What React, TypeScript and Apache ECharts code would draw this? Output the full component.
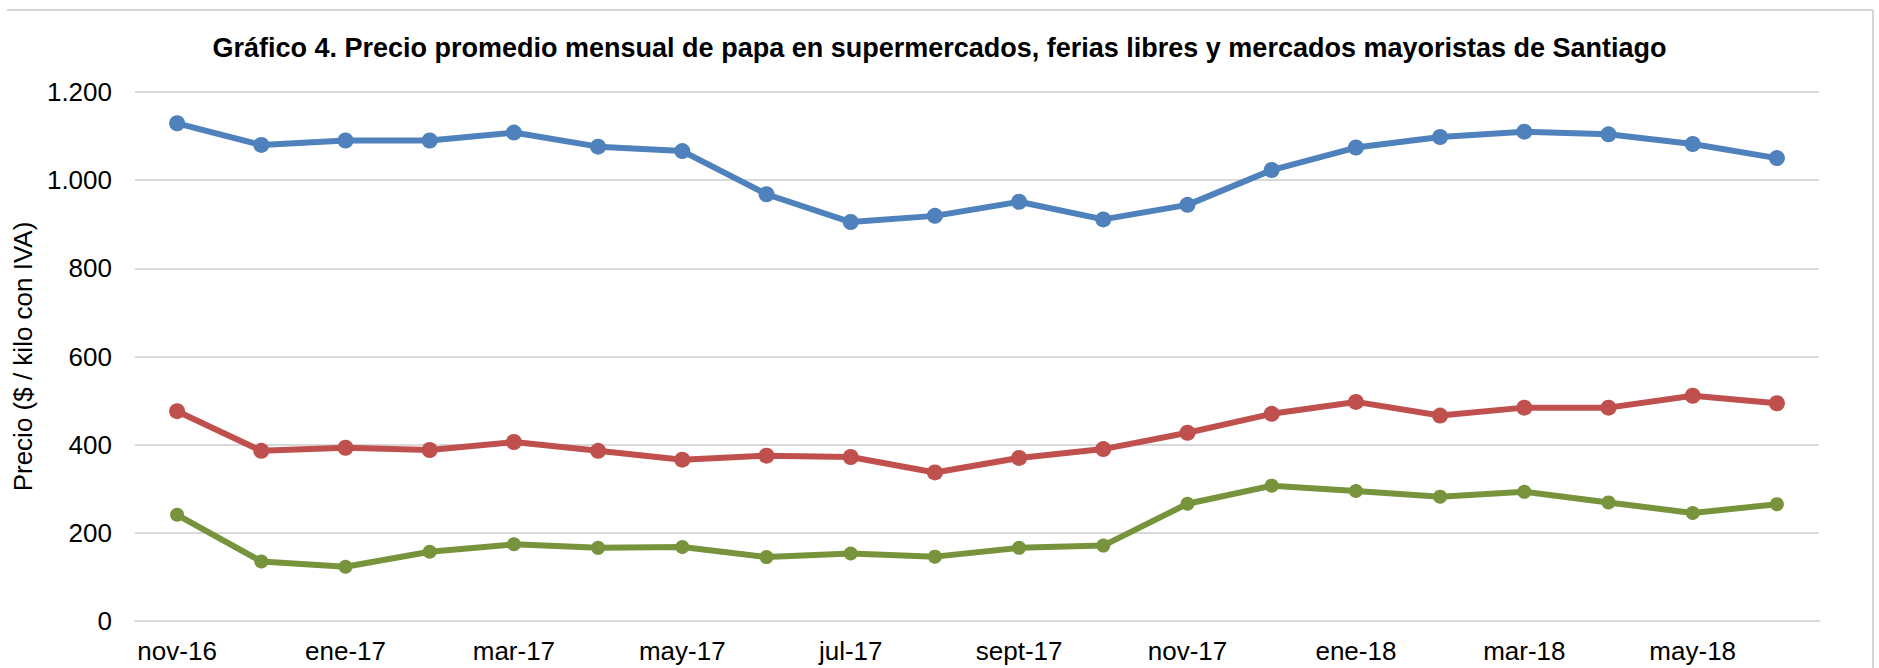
import React, { useEffect, useRef } from "react";
import * as echarts from "echarts";

const categories = [
  "nov-16", "dic-16", "ene-17", "feb-17", "mar-17", "abr-17", "may-17", "jun-17",
  "jul-17", "ago-17", "sept-17", "oct-17", "nov-17", "dic-17", "ene-18", "feb-18",
  "mar-18", "abr-18", "may-18", "jun-18",
];

const supermercados = [1129, 1080, 1090, 1090, 1108, 1076, 1066, 968, 905, 919, 951, 911, 944, 1023, 1074, 1098, 1110, 1104, 1082, 1050];
const feriasLibres = [476, 386, 393, 388, 406, 386, 366, 375, 372, 337, 370, 390, 427, 470, 497, 466, 484, 484, 511, 494];
const mercadosMayoristas = [241, 135, 123, 157, 174, 166, 168, 145, 153, 146, 166, 171, 266, 307, 295, 282, 293, 269, 245, 265];

const yTicks = { min: 0, max: 1200, interval: 200 };

const titleText =
  "Gráfico 4. Precio promedio mensual de papa en supermercados, ferias libres y mercados mayoristas de Santiago";
const yAxisName = "Precio ($ / kilo con IVA)";

const FONT = "'Liberation Sans', Arial, Helvetica, sans-serif";

function fmt(v: number): string {
  return String(v).replace(/\B(?=(\d{3})+(?!\d))/g, ".");
}

export default function App() {
  const ref = useRef<HTMLDivElement>(null);

  useEffect(() => {
    if (!ref.current) return;
    const chart = echarts.init(ref.current, undefined, { renderer: "svg" });
    const mkSeries = (name: string, data: number[], color: string, size: number) => ({
      name,
      type: "line",
      data,
      symbol: "circle",
      symbolSize: size,
      lineStyle: { color, width: 6 },
      itemStyle: { color },
      emphasis: { disabled: true },
    });
    chart.setOption({
      animation: false,
      backgroundColor: "#ffffff",
      title: {
        text: titleText,
        left: "center",
        top: 29,
        textStyle: {
          fontFamily: FONT,
          fontSize: 27,
          fontWeight: "bold",
          color: "#000000",
          lineHeight: 28,
        },
      },
      grid: { left: 135, right: 60, top: 92, bottom: 47, containLabel: false },
      xAxis: {
        type: "category",
        data: categories,
        boundaryGap: true,
        axisLine: { show: true, lineStyle: { color: "#d9d9d9", width: 2 } },
        axisTick: { show: false },
        axisLabel: {
          interval: 1,
          margin: 17,
          fontFamily: FONT,
          fontSize: 26,
          lineHeight: 26,
          color: "#000000",
        },
        splitLine: { show: false },
      },
      yAxis: {
        type: "value",
        min: yTicks.min,
        max: yTicks.max,
        interval: yTicks.interval,
        name: yAxisName,
        nameLocation: "middle",
        nameGap: 99,
        nameTextStyle: {
          fontFamily: FONT,
          fontSize: 26,
          lineHeight: 26,
          color: "#000000",
        },
        axisLine: { show: false },
        axisTick: { show: false },
        axisLabel: {
          margin: 23,
          fontFamily: FONT,
          fontSize: 26,
          color: "#000000",
          formatter: (v: number) => fmt(v),
        },
        splitLine: { show: true, lineStyle: { color: "#d9d9d9", width: 2 } },
      },
      graphic: [
        {
          type: "line",
          shape: { x1: 7, y1: 10, x2: 1873, y2: 10 },
          style: { stroke: "#d6d6d6", lineWidth: 2 },
          silent: true,
        },
        {
          type: "line",
          shape: { x1: 1873, y1: 10, x2: 1873, y2: 668 },
          style: { stroke: "#d6d6d6", lineWidth: 2 },
          silent: true,
        },
      ],
      series: [
        mkSeries("Supermercados", supermercados, "#4F81BD", 16),
        mkSeries("Ferias libres", feriasLibres, "#C0504D", 16),
        mkSeries("Mercados mayoristas", mercadosMayoristas, "#77933C", 14),
      ],
    });
    return () => chart.dispose();
  }, []);

  return (
    <div
      ref={ref}
      style={{ position: "fixed", left: 0, top: 0, width: 1879, height: 668, background: "#fff" }}
    />
  );
}
